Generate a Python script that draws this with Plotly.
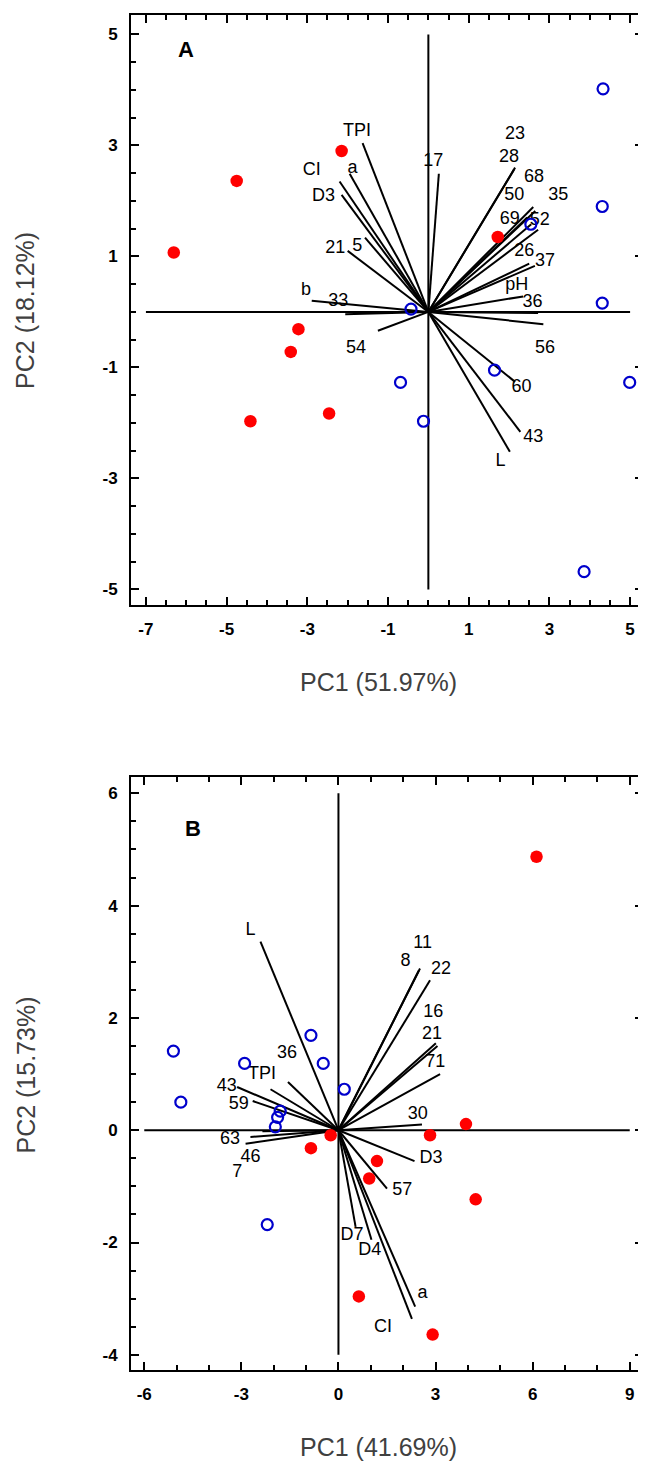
import plotly.graph_objects as go

# ---------------- Panel A data ----------------
a_red_x = [-2.15, -4.75, -6.31, -3.22, -3.41, -4.41, -2.46, 1.72]
a_red_y = [2.90, 2.36, 1.07, -0.31, -0.72, -1.97, -1.83, 1.35]
a_blue_x = [-0.43, 2.54, 4.31, 4.31, -0.69, 1.64, -0.12, 4.99, 3.86, 4.33]
a_blue_y = [0.05, 1.58, 1.90, 0.16, -1.27, -1.05, -1.97, -1.27, -4.68, 4.02]

a_vec_names = ["TPI", "a", "CI", "D3", "5", "21", "b", "33", "54", "17", "23", "28",
               "68", "35", "50", "69", "52", "26", "37", "pH", "36", "56", "60", "43", "L"]
a_vec_x = [-1.63, -1.95, -2.20, -2.15, -1.57, -2.00, -2.89, -2.06, -1.25, 0.26, 2.15, 2.12,
           2.60, 2.65, 2.45, 2.55, 2.72, 2.50, 2.64, 2.35, 2.72, 2.85, 2.15, 2.28, 2.02]
a_vec_y = [3.04, 2.49, 2.35, 2.11, 1.34, 1.10, 0.20, -0.04, -0.34, 2.49, 2.60, 2.56,
           1.89, 1.82, 1.70, 1.58, 1.48, 0.87, 0.83, 0.28, -0.02, -0.22, -1.26, -2.16, -2.52]
a_lab_x = [-1.77, -1.88, -2.89, -2.60, -1.76, -2.31, -3.03, -2.23, -1.79, 0.12, 2.15, 2.00,
           2.62, 3.22, 2.13, 2.02, 2.76, 2.38, 2.89, 2.19, 2.58, 2.89, 2.31, 2.60, 1.79]
a_lab_y = [3.25, 2.58, 2.55, 2.08, 1.18, 1.14, 0.38, 0.19, -0.65, 2.71, 3.20, 2.78,
           2.42, 2.10, 2.09, 1.66, 1.65, 1.09, 0.90, 0.47, 0.17, -0.65, -1.36, -2.26, -2.70]

a_cross_h = [-7, 5]
a_cross_v = [-5, 5]
a_xrange = [-7.37, 5.32]
a_yrange = [-5.28, 5.35]
a_xticks = [-7, -5, -3, -1, 1, 3, 5]
a_xticktext = ["-7", "-5", "-3", "-1", "1", "3", "5"]
a_yticks = [-5, -3, -1, 1, 3, 5]
a_yticktext = ["-5", "-3", "-1", "1", "3", "5"]

# ---------------- Panel B data ----------------
b_red_x = [-0.24, -0.85, 1.19, 0.95, 3.94, 2.83, 4.24, 0.63, 2.91, 6.12]
b_red_y = [-0.09, -0.32, -0.55, -0.86, 0.11, -0.09, -1.23, -2.96, -3.64, 4.87]
b_blue_x = [-5.10, -4.87, -2.90, -0.85, -0.47, 0.18, -1.80, -1.88, -1.95, -2.20]
b_blue_y = [1.41, 0.50, 1.19, 1.69, 1.19, 0.73, 0.34, 0.23, 0.06, -1.68]

b_vec_names = ["L", "36", "TPI", "43", "59", "63", "46", "7", "8", "11", "22", "16",
               "21", "71", "30", "D3", "57", "D7", "D4", "a", "CI"]
b_vec_x = [-2.41, -1.56, -2.10, -3.13, -2.65, -2.35, -2.72, -2.87, 2.48, 2.52, 2.83, 3.01,
           3.06, 3.14, 2.58, 2.35, 1.50, 0.53, 1.02, 2.37, 2.27]
b_vec_y = [3.36, 0.86, 0.73, 0.77, 0.52, -0.02, -0.12, -0.24, 2.84, 2.88, 2.67, 1.55,
           1.50, 1.00, 0.10, -0.55, -1.04, -1.72, -1.95, -3.14, -3.36]
b_lab_x = [-2.72, -1.59, -2.36, -3.45, -3.08, -3.35, -2.72, -3.13, 2.07, 2.60, 3.17, 2.93,
           2.89, 2.99, 2.45, 2.86, 1.97, 0.42, 0.97, 2.60, 1.38]
b_lab_y = [3.55, 1.37, 0.99, 0.77, 0.46, -0.17, -0.49, -0.76, 3.01, 3.33, 2.86, 2.10,
           1.71, 1.20, 0.28, -0.50, -1.08, -1.87, -2.14, -2.90, -3.51]

b_cross_h = [-6, 9]
b_cross_v = [-4, 6]
b_xrange = [-6.41, 9.41]
b_yrange = [-4.27, 6.29]
b_xticks = [-6, -3, 0, 3, 6, 9]
b_xticktext = ["-6", "-3", "0", "3", "6", "9"]
b_yticks = [-4, -2, 0, 2, 4, 6]
b_yticktext = ["-4", "-2", "0", "2", "4", "6"]

FONT = "Liberation Sans, Arial, sans-serif"
RED = "#ff0000"
BLUE = "#0000cc"

fig = go.Figure()


def add_panel(xa, ya, red_x, red_y, blue_x, blue_y, vx, vy, names, lx, ly, ch, cv):
    # cross lines through origin
    fig.add_trace(go.Scatter(x=[ch[0], ch[1], None, 0, 0], y=[0, 0, None, cv[0], cv[1]],
                             mode="lines", line=dict(color="black", width=2),
                             xaxis=xa, yaxis=ya, showlegend=False, hoverinfo="skip"))
    # loading vectors
    xs, ys = [], []
    for x, y in zip(vx, vy):
        xs += [0, x, None]
        ys += [0, y, None]
    fig.add_trace(go.Scatter(x=xs, y=ys, mode="lines", line=dict(color="black", width=2),
                             xaxis=xa, yaxis=ya, showlegend=False, hoverinfo="skip"))
    # labels
    fig.add_trace(go.Scatter(x=lx, y=ly, mode="text", text=names, textposition="middle center",
                             textfont=dict(family=FONT, size=18, color="black"),
                             xaxis=xa, yaxis=ya, showlegend=False, hoverinfo="skip"))
    # scores
    fig.add_trace(go.Scatter(x=red_x, y=red_y, mode="markers",
                             marker=dict(color=RED, size=12.5, line=dict(width=0)),
                             xaxis=xa, yaxis=ya, showlegend=False, cliponaxis=False))
    fig.add_trace(go.Scatter(x=blue_x, y=blue_y, mode="markers",
                             marker=dict(color="rgba(0,0,0,0)", size=11, line=dict(color=BLUE, width=2.2)),
                             xaxis=xa, yaxis=ya, showlegend=False, cliponaxis=False))


add_panel("x", "y", a_red_x, a_red_y, a_blue_x, a_blue_y, a_vec_x, a_vec_y, a_vec_names,
          a_lab_x, a_lab_y, a_cross_h, a_cross_v)
add_panel("x2", "y2", b_red_x, b_red_y, b_blue_x, b_blue_y, b_vec_x, b_vec_y, b_vec_names,
          b_lab_x, b_lab_y, b_cross_h, b_cross_v)

tickfont = dict(family=FONT, size=17, color="black", weight="bold")


def axis(rng, tickvals, ticktext, tick0, mdtick, domain, anchor, standoff):
    return dict(range=rng, tickmode="array", tickvals=tickvals, ticktext=ticktext,
                domain=domain, anchor=anchor,
                showgrid=False, zeroline=False, showline=True, mirror="ticks",
                linecolor="black", linewidth=2, ticks="inside", ticklen=8, tickwidth=2,
                tickcolor="black", tickfont=tickfont, ticklabelstandoff=standoff,
                minor=dict(tickmode="linear", tick0=tick0, dtick=mdtick, ticks="inside", ticklen=5,
                           tickwidth=1.5, tickcolor="black", showgrid=False))


# the page body has an 8px margin, so the figure is sized/offset to compensate
fig.update_layout(
    width=638, height=1461,
    margin=dict(l=123, r=1, t=7, b=99),
    paper_bgcolor="white", plot_bgcolor="white",
    xaxis=axis(a_xrange, a_xticks, a_xticktext, -7, 0.5, [0, 1], "y", 8),
    yaxis=axis(a_yrange, a_yticks, a_yticktext, -5, 0.5, [0.5646, 1], "x", 8),
    xaxis2=axis(b_xrange, b_xticks, b_xticktext, -6, 1, [0, 1], "y2", 8),
    yaxis2=axis(b_yrange, b_yticks, b_yticktext, -4, 0.5, [0, 0.4376], "x2", 8),
)

title_font = dict(family=FONT, size=25, color="#404040")
fig.add_annotation(text="PC1 (51.97%)", xref="paper", yref="paper", x=0.484, y=0.5077,
                   showarrow=False, font=title_font, xanchor="center", yanchor="middle")
fig.add_annotation(text="PC2 (18.12%)", xref="paper", yref="paper", x=-0.206, y=0.782,
                   showarrow=False, font=title_font, textangle=-90, xanchor="center", yanchor="middle")
fig.add_annotation(text="PC1 (41.69%)", xref="paper", yref="paper", x=0.484, y=-0.0568,
                   showarrow=False, font=title_font, xanchor="center", yanchor="middle")
fig.add_annotation(text="PC2 (15.73%)", xref="paper", yref="paper", x=-0.206, y=0.2177,
                   showarrow=False, font=title_font, textangle=-90, xanchor="center", yanchor="middle")

panel_font = dict(family=FONT, size=22, color="black", weight="bold")
fig.add_annotation(text="A", xref="x", yref="y", x=-6.0, y=4.72, showarrow=False, font=panel_font)
fig.add_annotation(text="B", xref="x2", yref="y2", x=-4.5, y=5.37, showarrow=False, font=panel_font)

fig.write_html("out.html")
